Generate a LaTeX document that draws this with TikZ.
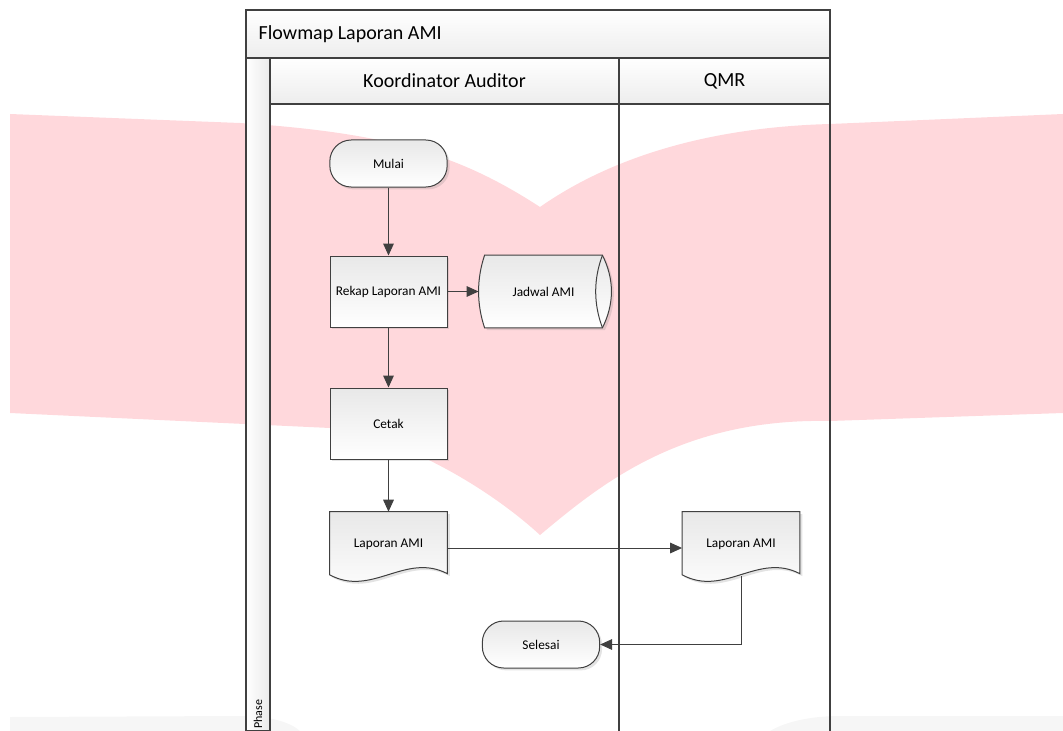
\documentclass[tikz,border=0pt]{standalone}
\usepackage{fontspec}
\setmainfont{Carlito}
\usepackage{tikz}
\usetikzlibrary{calc}
\usetikzlibrary{shapes,arrows.meta}
\usetikzlibrary{shadows,backgrounds}

\definecolor{wmpink}{RGB}{255,216,220}
\definecolor{wmgray}{RGB}{246,246,246}
\definecolor{lineclr}{RGB}{64,64,64}

\begin{document}
\begin{tikzpicture}[x=0.75pt,y=-0.75pt,
  lane/.style={draw=lineclr,line width=1pt,top color=white,bottom color=black!7},
  shp/.style={draw=lineclr,line width=0.75pt,top color=black!9,bottom color=white,
    drop shadow={shadow xshift=1.8pt,shadow yshift=-1.8pt,opacity=0.22}},
  proc/.style={shp,rectangle,minimum width=87.75pt,minimum height=53.25pt,font=\fontsize{10}{12}\selectfont},
  term/.style={shp,rectangle,rounded corners=16pt,minimum width=88pt,minimum height=35.25pt,font=\fontsize{10}{12}\selectfont},
  doc/.style={rectangle,minimum width=88pt,minimum height=54pt,inner sep=0pt,font=\fontsize{10}{12}\selectfont},
  arr/.style={draw=lineclr,line width=0.75pt,-{Triangle[length=9pt,width=8pt]}}]
\useasboundingbox (0,0) rectangle (1063,731);

\coordinate (pool_st) at (246,10);
\coordinate (pool_e) at (830,731);
\coordinate (head_st) at (270,58);
\coordinate (div) at (619,58);
\coordinate (head_e) at (830,104);

\draw[lane] (pool_st) rectangle (pool_e |- head_st);
\draw[lane,left color=white,right color=black!8] (pool_st |- head_st) rectangle (head_st |- pool_e);
\draw[lane] (head_st) rectangle (div |- head_e);
\draw[lane] (div) rectangle (head_e);
\draw[draw=lineclr,line width=1pt] (div |- head_e) -- (div |- pool_e);
\draw[draw=lineclr,line width=1pt] (pool_e |- head_e) -- (pool_e);

\node[anchor=west,font=\fontsize{15}{18}\selectfont] (title) at (254,34) {Flowmap Laporan AMI};
\node[font=\fontsize{15}{18}\selectfont] (koord) at ($(head_st)!0.5!(div |- head_e)$) {Koordinator Auditor};
\node[font=\fontsize{15}{18}\selectfont] (qmr) at ($(div)!0.5!(head_e)$) {QMR};
\node[rotate=90,anchor=west,inner sep=0pt,font=\fontsize{9}{11}\selectfont] (phase) at (258,729) {Phase};

\node[term] (mulai) at (388.5,163.5) {Mulai};
\node[proc] (rekap) at (388.5,291.5) {Rekap Laporan AMI};
\node[doc] (jadwal) at (543.5,291.5) {Jadwal AMI};
\node[proc] (cetak) at (388.5,423.5) {Cetak};
\node[doc] (lap1) at (388.5,548) {\raisebox{6.75pt}{Laporan AMI}};
\node[doc] (lap2) at (741,548) {\raisebox{6.75pt}{Laporan AMI}};
\node[term] (sel) at (541,644.5) {Selesai};

\begin{pgfonlayer}{background}
\fill[wmpink] (10,114) -- (240,123) .. controls (390,133) and (460,155) .. (540,207)
  .. controls (590,172) and (680,128) .. (830,124) -- (1063,114) -- (1063,413) -- (830,421)
  .. controls (680,418) and (600,485) .. (540,535) .. controls (480,480) and (390,434) .. (330,428)
  -- (10,413) -- cycle;
\fill[wmgray] (10,731) -- (10,717) -- (240,716) .. controls (270,716) and (290,722) .. (300,731) -- cycle;
\fill[wmgray] (770,731) .. controls (785,722) and (810,716) .. (840,716) -- (1063,716) -- (1063,731) -- cycle;
\path[shp] (jadwal.north west) -- (jadwal.north east) .. controls +(12,24) and +(12,-24) .. (jadwal.south east)
  -- (jadwal.south west) .. controls +(-8,-24) and +(-8,24) .. (jadwal.north west) -- cycle;
\draw[draw=lineclr,line width=0.75pt] (jadwal.north east) .. controls +(-9,24) and +(-9,-24) .. (jadwal.south east);
\path[shp] (lap1.north west) -- (lap1.north east) -- ($(lap1.north east)+(0,62)$)
  .. controls +(-42,-22) and +(42,23) .. ($(lap1.north west)+(0,63)$) -- cycle;
\path[shp] (lap2.north west) -- (lap2.north east) -- ($(lap2.north east)+(0,62)$)
  .. controls +(-42,-22) and +(42,23) .. ($(lap2.north west)+(0,63)$) -- cycle;
\end{pgfonlayer}

\draw[arr] (mulai) -- (rekap);
\draw[arr] (rekap) -- ([xshift=-4.5pt]jadwal.west);
\draw[arr] (rekap) -- (cetak);
\draw[arr] (cetak) -- (lap1);
\draw[arr] (lap1.east) -- (lap2.west);
\draw[arr] ([yshift=6pt]lap2.south) |- (sel.east);
\end{tikzpicture}
\end{document}
